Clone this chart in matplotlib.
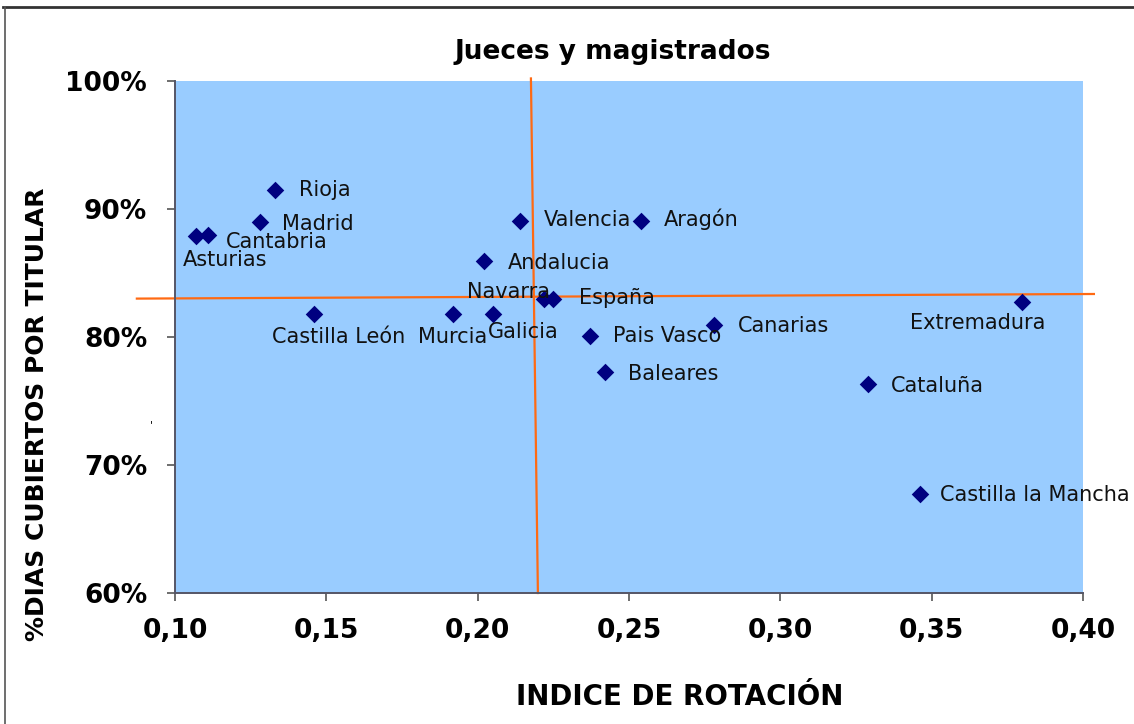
import matplotlib
matplotlib.use('Agg')
import matplotlib.pyplot as plt
from matplotlib.lines import Line2D
from matplotlib.ticker import FuncFormatter

# Regional data: rotation index vs % of days covered by the titular judge
regions = ['Rioja', 'Madrid', 'Cantabria', 'Asturias', 'Castilla León', 'Murcia',
           'Galicia', 'Navarra', 'España', 'Valencia', 'Aragón', 'Andalucia',
           'Pais Vasco', 'Canarias', 'Baleares', 'Extremadura', 'Cataluña',
           'Castilla la Mancha']
rotation = [0.133, 0.128, 0.111, 0.107, 0.146, 0.192,
            0.205, 0.222, 0.225, 0.214, 0.254, 0.202,
            0.237, 0.278, 0.242, 0.380, 0.329,
            0.346]
covered = [91.5, 89.0, 88.0, 87.9, 81.8, 81.8,
           81.8, 83.0, 83.0, 89.1, 89.1, 85.9,
           80.1, 80.9, 77.3, 82.7, 76.3,
           67.7]

# Reference (average) lines
h_line_x = [0.0874, 0.4036]
h_line_y = [83.0, 83.36]
v_line_x = [0.2176, 0.2199]
v_line_y = [100.2, 60.0]

x_ticks = [0.10, 0.15, 0.20, 0.25, 0.30, 0.35, 0.40]
y_ticks = [60, 70, 80, 90, 100]

# label placement, offset in pixels from the marker (left edge of text, centre line)
label_offsets = {
    'Rioja': (24, 0), 'Madrid': (22, -2), 'Cantabria': (18, -7),
    'Asturias': (-13, -24), 'Castilla León': (-42, -23), 'Murcia': (-35, -23),
    'Galicia': (-5, -18), 'Navarra': (-77, 7), 'España': (26, 1),
    'Valencia': (24, 1), 'Aragón': (23, 1), 'Andalucia': (24, -2),
    'Pais Vasco': (23, 0), 'Canarias': (24, -1), 'Baleares': (23, -2),
    'Extremadura': (-112, -21), 'Cataluña': (23, -2), 'Castilla la Mancha': (20, -1),
}

W, H = 1134, 724
fig = plt.figure(figsize=(W / 100, H / 100), dpi=100)
ax = fig.add_axes([175 / W, 1 - 593 / H, 908 / W, 512 / H])
ax.set_facecolor('#99CCFF')

ax.plot(h_line_x, h_line_y, color='#FF6A13', lw=1.6, clip_on=False, zorder=2)
ax.plot(v_line_x, v_line_y, color='#FF6A13', lw=1.6, clip_on=False, zorder=2)

ax.scatter(rotation, covered, marker='D', s=80, color='#000080', zorder=3, linewidths=0)

for name, xv, yv in zip(regions, rotation, covered):
    dx, dy = label_offsets[name]
    ax.annotate(name, (xv, yv), xytext=(dx, dy), textcoords='offset pixels',
                ha='left', va='center', fontsize=15, color='#111111',
                annotation_clip=False, zorder=4)

ax.set_xlim(0.10, 0.40)
ax.set_ylim(60, 100)
ax.set_xticks(x_ticks)
ax.set_yticks(y_ticks)
ax.xaxis.set_major_formatter(FuncFormatter(lambda v, p: f'{v:.2f}'.replace('.', ',')))
ax.yaxis.set_major_formatter(FuncFormatter(lambda v, p: f'{v:.0f}%'))
ax.tick_params(axis='both', direction='out', length=6, width=1.2, color='#555555',
               labelsize=19)
for lab in ax.get_xticklabels() + ax.get_yticklabels():
    lab.set_fontweight('bold')
ax.tick_params(axis='x', pad=12)
ax.tick_params(axis='y', pad=14)

for side in ['top', 'right']:
    ax.spines[side].set_visible(False)
for side in ['left', 'bottom']:
    ax.spines[side].set_color('#555566')
    ax.spines[side].set_linewidth(1.4)

fig.text(613 / W, 1 - 52 / H, 'Jueces y magistrados', ha='center', va='center',
         fontsize=19, fontweight='bold')
fig.text(680 / W, 1 - 697 / H, 'INDICE DE ROTACIÓN', ha='center', va='center',
         fontsize=20, fontweight='bold')
fig.text(37 / W, 1 - 414 / H, '%DIAS CUBIERTOS POR TITULAR', ha='center', va='center',
         rotation=90, fontsize=18, fontweight='bold')
fig.text(151 / W, 1 - 425 / H, "'", ha='center', va='center', fontsize=8)

# outer chart frame (top and left edges)
fig.add_artist(Line2D([3 / W, 1], [1 - 7 / H, 1 - 7 / H], color='#333333', lw=2))
fig.add_artist(Line2D([5 / W, 5 / W], [0, 1 - 7 / H], color='#555555', lw=1.2))

fig.savefig('out.png', dpi=100)
